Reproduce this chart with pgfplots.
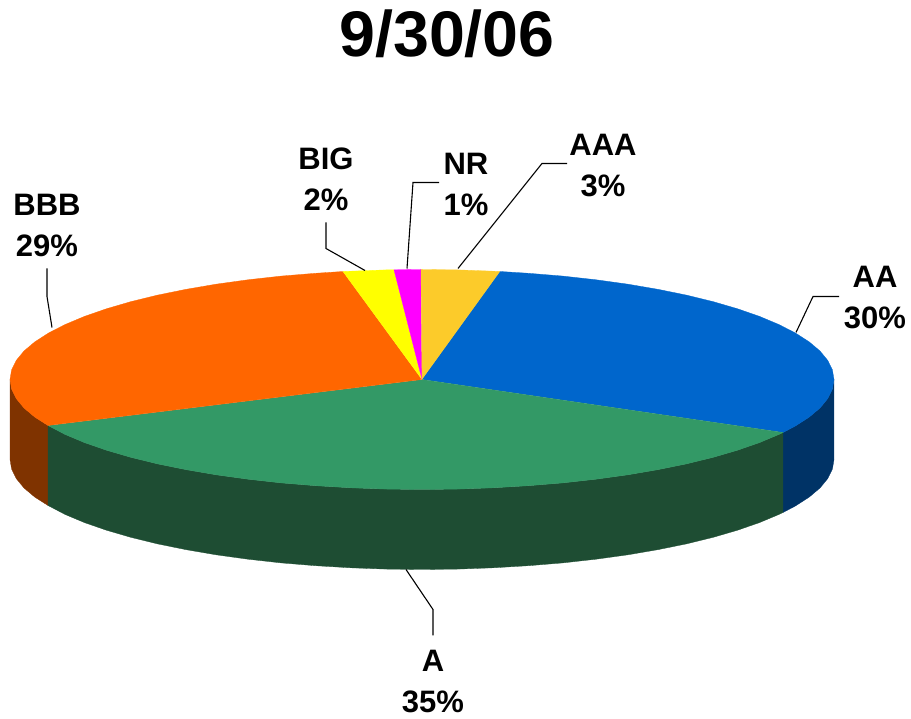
\documentclass[border=0pt]{standalone}
\usepackage{pgfplots}
\pgfplotsset{compat=1.18}
\usepackage{fontspec}
\setmainfont{Liberation Sans}
\definecolor{cAAA}{HTML}{FCCB2A}
\definecolor{cAA}{HTML}{0066CC}
\definecolor{cA}{HTML}{339966}
\definecolor{cBBB}{HTML}{FF6600}
\definecolor{cBIG}{HTML}{FFFF00}
\definecolor{cNR}{HTML}{FF00FF}
\definecolor{wAA}{HTML}{003366}
\definecolor{wA}{HTML}{1E4D33}
\definecolor{wBBB}{HTML}{7F3300}
\newcommand{\lab}[4]{\node[anchor=base,align=center,inner sep=0pt,font=\fontsize{31}{31}\selectfont\bfseries] at (axis cs:#1,#2) {#3};\node[anchor=base,inner sep=0pt,font=\fontsize{31}{31}\selectfont\bfseries] at (axis cs:#1,#2-41) {#4};}
\begin{document}
\begin{tikzpicture}
\begin{axis}[hide axis, scale only axis, width=911pt, height=719pt,
  xmin=-422, xmax=489, ymin=-339.5, ymax=379.5, clip=false]
\path (axis cs:-422,-339.5) rectangle (axis cs:489,379.5);
% side walls
\addplot[fill=wBBB, draw=wBBB, line width=.3pt] coordinates {(-374,-46)(-387.2,-37.6)(-398,-28.5)(-405.7,-19.1)(-410.4,-9.6)(-412,0)(-412,-80)(-410.4,-89.6)(-405.7,-99.1)(-398,-108.5)(-387.2,-117.6)(-374,-126)};
\addplot[fill=wAA, draw=wAA, line width=.3pt] coordinates {(412,0)(410.4,-9.6)(405.7,-19.1)(398,-28.5)(387.2,-37.6)(373.4,-46.5)(361,-53)(361,-133)(373.4,-126.5)(387.2,-117.6)(398,-108.5)(405.7,-99.1)(410.4,-89.6)(412,-80)};
\addplot[fill=wA, draw=wA, line width=.3pt] coordinates {(361,-53)(356.8,-55)(337.5,-63.1)(315.6,-70.7)(291.3,-77.8)(264.8,-84.3)(236.3,-90.1)(206,-95.3)(174.1,-99.7)(140.9,-103.4)(106.6,-106.2)(71.5,-108.3)(35.9,-109.6)(0,-110)(-35.9,-109.6)(-71.5,-108.3)(-106.6,-106.2)(-140.9,-103.4)(-174.1,-99.7)(-206,-95.3)(-236.3,-90.1)(-264.8,-84.3)(-291.3,-77.8)(-315.6,-70.7)(-337.5,-63.1)(-356.8,-55)(-374,-46)(-374,-126)(-356.8,-135)(-337.5,-143.1)(-315.6,-150.7)(-291.3,-157.8)(-264.8,-164.3)(-236.3,-170.1)(-206,-175.3)(-174.1,-179.7)(-140.9,-183.4)(-106.6,-186.2)(-71.5,-188.3)(-35.9,-189.6)(0,-190)(35.9,-189.6)(71.5,-188.3)(106.6,-186.2)(140.9,-183.4)(174.1,-179.7)(206,-175.3)(236.3,-170.1)(264.8,-164.3)(291.3,-157.8)(315.6,-150.7)(337.5,-143.1)(356.8,-135)(361,-133)};
% top slices
\addplot[fill=cAA, draw=cAA, line width=.3pt] coordinates {(0,0)(78,108)(106.6,106.2)(140.9,103.4)(174.1,99.7)(206,95.3)(236.3,90.1)(264.8,84.3)(291.3,77.8)(315.6,70.7)(337.5,63.1)(356.8,55)(373.4,46.5)(387.2,37.6)(398,28.5)(405.7,19.1)(410.4,9.6)(412,0)(410.4,-9.6)(405.7,-19.1)(398,-28.5)(387.2,-37.6)(373.4,-46.5)(361,-53)};
\addplot[fill=cA, draw=cA, line width=.3pt] coordinates {(0,0)(361,-53)(356.8,-55)(337.5,-63.1)(315.6,-70.7)(291.3,-77.8)(264.8,-84.3)(236.3,-90.1)(206,-95.3)(174.1,-99.7)(140.9,-103.4)(106.6,-106.2)(71.5,-108.3)(35.9,-109.6)(0,-110)(-35.9,-109.6)(-71.5,-108.3)(-106.6,-106.2)(-140.9,-103.4)(-174.1,-99.7)(-206,-95.3)(-236.3,-90.1)(-264.8,-84.3)(-291.3,-77.8)(-315.6,-70.7)(-337.5,-63.1)(-356.8,-55)(-374,-46)};
\addplot[fill=cBBB, draw=cBBB, line width=.3pt] coordinates {(0,0)(-374,-46)(-387.2,-37.6)(-398,-28.5)(-405.7,-19.1)(-410.4,-9.6)(-412,0)(-410.4,9.6)(-405.7,19.1)(-398,28.5)(-387.2,37.6)(-373.4,46.5)(-356.8,55)(-337.5,63.1)(-315.6,70.7)(-291.3,77.8)(-264.8,84.3)(-236.3,90.1)(-206,95.3)(-174.1,99.7)(-140.9,103.4)(-106.6,106.2)(-79,108)};
\addplot[fill=cBIG, draw=cBIG, line width=.3pt] coordinates {(0,0)(-79,108)(-71.5,108.3)(-35.9,109.6)(-28,109.7)};
\addplot[fill=cNR, draw=cNR, line width=.3pt] coordinates {(0,0)(-28,109.7)(-1,110)};
\addplot[fill=cAAA, draw=cAAA, line width=.3pt] coordinates {(0,0)(-1,110)(0,110)(35.9,109.6)(71.5,108.3)(78,108)};
% leader lines (image px converted to centre offsets)
\addplot[black, line width=1.1pt] coordinates {(-96,157)(-96,131)(-57,109)};
\addplot[black, line width=1.1pt] coordinates {(17,197)(-9,197)(-15,111)};
\addplot[black, line width=1.1pt] coordinates {(145,216)(120,216)(36,111)};
\addplot[black, line width=1.1pt] coordinates {(-375,111)(-375,83)(-370,52)};
\addplot[black, line width=1.1pt] coordinates {(417,83)(391,83)(374,47)};
\addplot[black, line width=1.1pt] coordinates {(11,-256)(11,-230)(-16,-190)};
% labels
\node[anchor=base,inner sep=0pt,font=\fontsize{64.5}{64.5}\selectfont\bfseries] at (axis cs:25,323) {9/30/06};
\lab{-375}{164}{BBB}{29\%}
\lab{-96}{210}{BIG}{2\%}
\lab{44}{205}{NR}{1\%}
\lab{181}{224}{AAA}{3\%}
\lab{453}{92}{AA}{30\%}
\lab{11}{-292}{A}{35\%}
\end{axis}
\end{tikzpicture}
\end{document}
